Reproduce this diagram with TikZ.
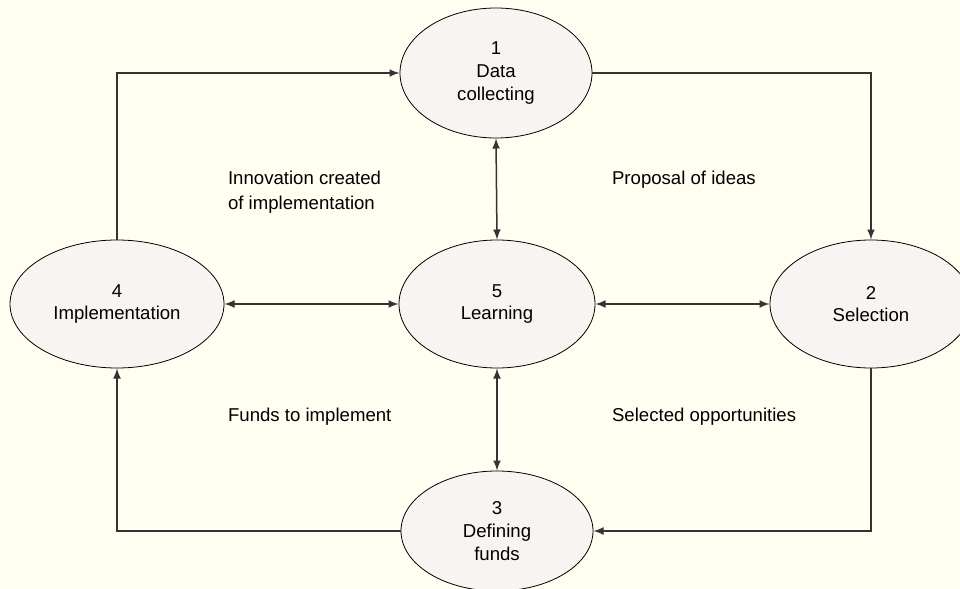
\documentclass[tikz,border=0pt]{standalone}
\usepackage{fontspec}
\setmainfont{Liberation Sans}
\usetikzlibrary{shapes.geometric}

\newcommand{\stage}[2]% number, text
{#1\\#2}

\begin{document}
\begin{tikzpicture}[x=0.5pt,y=-0.5pt]

\definecolor{pozadi}{rgb}{1.0,0.996,0.945}
\definecolor{vypln}{rgb}{0.973,0.957,0.945}
\definecolor{cara}{rgb}{0.2,0.2,0.2}

\tikzset{
  krok/.style={ellipse, draw=black, fill=vypln, inner sep=0pt, align=center,
    font=\fontsize{9.3}{11.4}\selectfont},
  sipka/.style={draw=cara, line width=0.75pt, -latex},
  popis/.style={anchor=west, align=left, font=\fontsize{9.3}{12.5}\selectfont}
}

\fill [pozadi] (0,0) rectangle (960,589);
\useasboundingbox (0,0) rectangle (960,589);

\node[krok, minimum width=96pt, minimum height=65pt] (data) at (496,73) {\stage{1}{Data\\collecting}};
\node[krok, minimum width=98pt, minimum height=64pt] (learn) at (497,304) {\stage{5}{Learning}};
\node[krok, minimum width=96pt, minimum height=60pt] (funds) at (497,531) {\stage{3}{Defining\\funds}};
\node[krok, minimum width=107pt, minimum height=64pt] (impl) at (117,304) {\stage{4}{Implementation}};
\node[krok, minimum width=101pt, minimum height=64pt] (sel) at (871,304) {\stage{2}{Selection}};

% outer cycle
\draw[sipka] (impl.north) |- (data.west);
\draw[sipka] (data.east) -| (sel.north);
\draw[sipka] (sel.south) |- (funds.east);
\draw[sipka] (funds.west) -| (impl.south);

% to and from learning
\draw[sipka, latex-latex] (data.south) -- (learn.north);
\draw[sipka, latex-latex] (learn.south) -- (funds.north);
\draw[sipka, latex-latex] (impl.east) -- (learn.west);
\draw[sipka, latex-latex] (learn.east) -- (sel.west);

\node[popis] (innov) at (221,192) {Innovation created\\of implementation};
\node[popis] (ideas) at (605,180) {Proposal of ideas};
\node[popis] (fundsimp) at (221,417) {Funds to implement};
\node[popis] (opport) at (605,417) {Selected opportunities};

\end{tikzpicture}
\end{document}
